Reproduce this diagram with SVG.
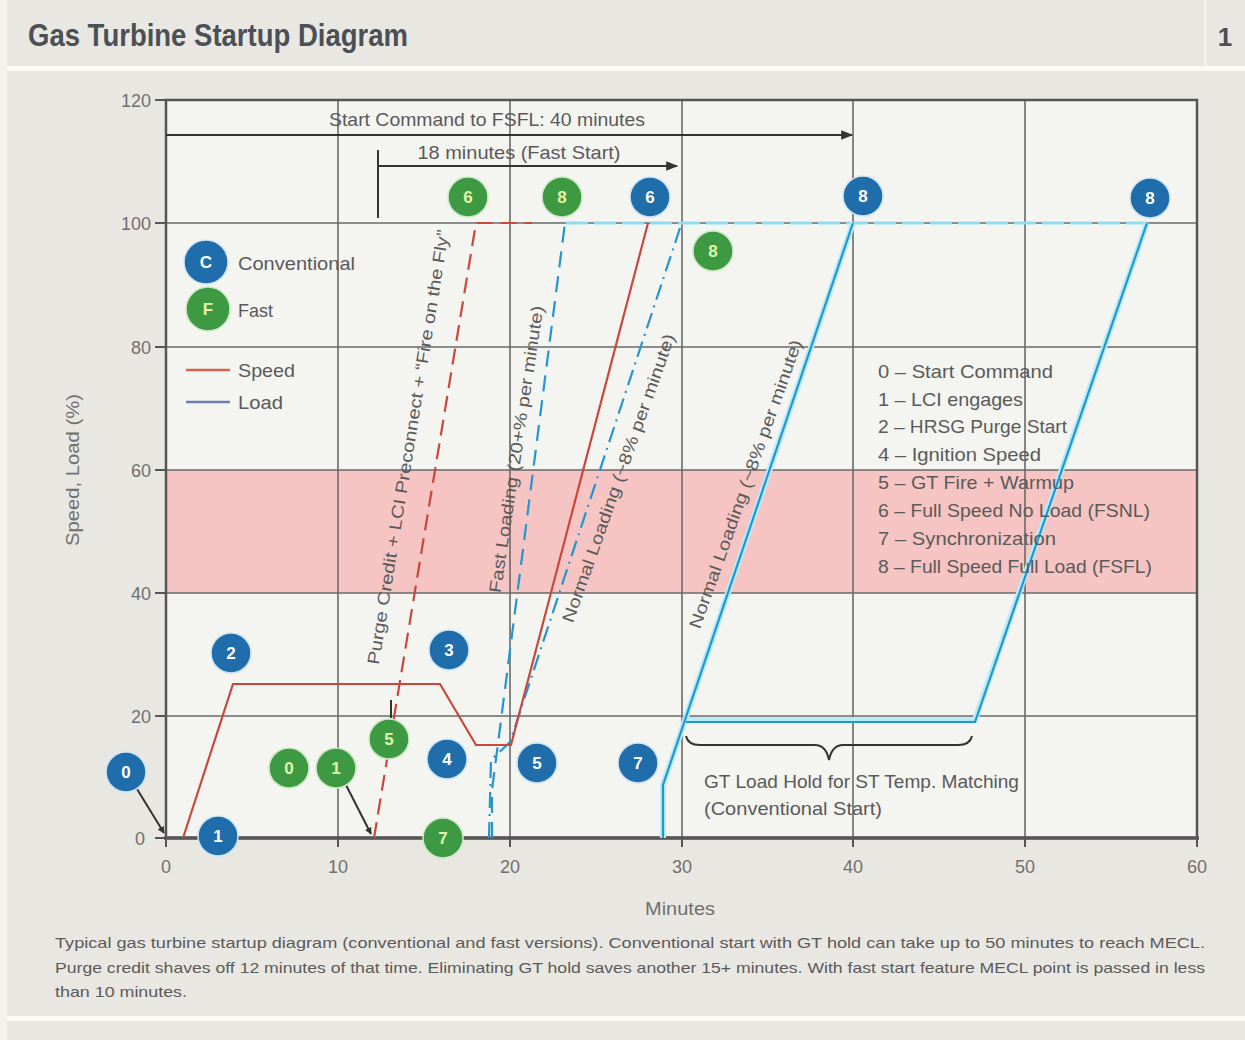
<svg xmlns="http://www.w3.org/2000/svg" width="1245" height="1040" viewBox="0 0 1245 1040">
<defs>
<style>
.t{font-family:"Liberation Sans Narrow","Liberation Sans",Arial,sans-serif;fill:#5a5a5a}
.tick{font-size:18px;fill:#707070}
.lbl{font-size:19px}
.mk text{font-family:"Liberation Sans",Arial,sans-serif;font-size:17px;font-weight:bold;text-anchor:middle}
.cb circle{fill:#1f6dab;stroke:#cfe5f3;stroke-width:1.5}
.cb text{fill:#ffffff}
.fg circle{fill:#3d9a43;stroke:#cfe9c8;stroke-width:1.5}
.fg text{fill:#e2f5a8}
.grid{stroke:#6a6a6a;stroke-width:1.6;fill:none}
.spd{stroke:#c8483e;stroke-width:2.2;fill:none}
.ldglow{stroke:#b7ecf7;stroke-width:6;fill:none}
.ld{stroke:#2496cf;stroke-width:2.2;fill:none}
.arr{stroke:#333;stroke-width:2;fill:none}
</style>
<marker id="ah" viewBox="0 0 10 10" refX="9" refY="5" markerWidth="7" markerHeight="7" orient="auto" markerUnits="userSpaceOnUse">
<path d="M0,0 L10,5 L0,10 z" fill="#333"/>
</marker>
<marker id="ahb" viewBox="0 0 10 10" refX="9" refY="5" markerWidth="14" markerHeight="12" orient="auto" markerUnits="userSpaceOnUse">
<path d="M0,1 L10,5 L0,9 z" fill="#333"/>
</marker>
</defs>

<!-- background -->
<rect x="0" y="0" width="1245" height="1040" fill="#e9e7e1"/>
<rect x="0" y="0" width="7" height="1040" fill="#f3f2ed"/>
<rect x="7" y="66" width="1238" height="5" fill="#fbfaf5"/>
<rect x="1204" y="0" width="3" height="66" fill="#f3f2ec"/>
<rect x="7" y="1016" width="1238" height="5" fill="#fbfaf5"/>

<text class="t" x="28" y="46" font-size="31" font-weight="bold" textLength="380" lengthAdjust="spacingAndGlyphs" style="fill:#4b5056">Gas Turbine Startup Diagram</text>
<text class="t" x="1225" y="46" font-size="26" font-weight="bold" text-anchor="middle" style="fill:#4b5056">1</text>

<!-- plot area -->
<g id="plot">
<rect x="166" y="100" width="1031" height="738" fill="#f4f4f0"/>
<rect x="166" y="470" width="1031" height="123" fill="#f6c4c2"/>
<path class="grid" d="M338,100V838 M510,100V838 M682,100V838 M853,100V838 M1025,100V838 M166,223H1197 M166,347H1197 M166,470H1197 M166,593H1197 M166,716H1197"/>
<rect x="166" y="100" width="1031" height="738" fill="none" stroke="#555" stroke-width="2.5"/>
<path d="M164,838H1199" stroke="#555" stroke-width="3.5"/>
<path stroke="#555" stroke-width="2" d="M155,100H166 M155,223H166 M155,347H166 M155,470H166 M155,593H166 M155,716H166 M155,838H166 M166,838V847 M338,838V847 M510,838V847 M682,838V847 M853,838V847 M1025,838V847 M1197,838V847"/>
</g>

<g id="axis-labels" class="t tick">
<text x="151" y="107" text-anchor="end">120</text>
<text x="151" y="230" text-anchor="end">100</text>
<text x="151" y="354" text-anchor="end">80</text>
<text x="151" y="477" text-anchor="end">60</text>
<text x="151" y="600" text-anchor="end">40</text>
<text x="151" y="723" text-anchor="end">20</text>
<text x="145" y="845" text-anchor="end">0</text>
<text x="166" y="873" text-anchor="middle">0</text>
<text x="338" y="873" text-anchor="middle">10</text>
<text x="510" y="873" text-anchor="middle">20</text>
<text x="682" y="873" text-anchor="middle">30</text>
<text x="853" y="873" text-anchor="middle">40</text>
<text x="1025" y="873" text-anchor="middle">50</text>
<text x="1197" y="873" text-anchor="middle">60</text>
<text x="680" y="915" text-anchor="middle" textLength="70" lengthAdjust="spacingAndGlyphs">Minutes</text>
<text x="0" y="0" text-anchor="middle" textLength="152" lengthAdjust="spacingAndGlyphs" transform="translate(79,470) rotate(-90)">Speed, Load (%)</text>
</g>

<!-- connectors / curves -->
<g id="connectors">
<path d="M566,223H1150" stroke="#8fdcf0" stroke-width="3" stroke-dasharray="22,6" fill="none"/>
<path class="ldglow" d="M663,838V785L853,223 M686,720H975L1147,223"/>
<path class="ld" d="M663,838V785L853,223 M686,722H975L1147,223"/>
<path d="M492,838V790L565,223" stroke="#2496cf" stroke-width="2.2" fill="none" stroke-dasharray="16,9"/>
<path d="M489,838L491,760L510,742L680,228" stroke="#2496cf" stroke-width="2.2" fill="none" stroke-dasharray="16,6,2,6"/>
<path class="spd" d="M183,838L233,684H440L476,745H511L648,223"/>
<path d="M374,838L476,223H532" stroke="#c8483e" stroke-width="2.2" fill="none" stroke-dasharray="16,8"/>
<path class="arr" d="M137,789L164,833" marker-end="url(#ah)"/>
<path class="arr" d="M346,785L371,834" marker-end="url(#ah)"/>
<path class="arr" d="M391,718V700"/>
<path class="arr" d="M166,135H852" marker-end="url(#ahb)"/>
<path class="arr" d="M378,150V218 M378,166H677" marker-end="url(#ahb)"/>
<path d="M686,736Q688,745 700,745H815Q826,745 829,760Q832,745 843,745H958Q970,745 972,736" stroke="#333" stroke-width="2" fill="none"/>
</g>

<g id="annotations" class="t lbl">
<text x="487" y="126" text-anchor="middle" textLength="316" lengthAdjust="spacingAndGlyphs">Start Command to FSFL: 40 minutes</text>
<text x="519" y="159" text-anchor="middle" textLength="203" lengthAdjust="spacingAndGlyphs">18 minutes (Fast Start)</text>
<text x="0" y="0" font-size="17" text-anchor="middle" textLength="440" lengthAdjust="spacingAndGlyphs" transform="translate(414,448) rotate(-80.8)">Purge Credit + LCI Preconnect + “Fire on the Fly”</text>
<text x="0" y="0" font-size="17" text-anchor="middle" textLength="290" lengthAdjust="spacingAndGlyphs" transform="translate(522,450) rotate(-81.5)">Fast Loading (20+% per minute)</text>
<text x="0" y="0" font-size="17" text-anchor="middle" textLength="305" lengthAdjust="spacingAndGlyphs" transform="translate(624,480) rotate(-70.4)">Normal Loading (~8% per minute)</text>
<text x="0" y="0" font-size="17" text-anchor="middle" textLength="305" lengthAdjust="spacingAndGlyphs" transform="translate(751,486) rotate(-70.4)">Normal Loading (~8% per minute)</text>
<text x="704" y="788" textLength="315" lengthAdjust="spacingAndGlyphs">GT Load Hold for ST Temp. Matching</text>
<text x="704" y="815" textLength="178" lengthAdjust="spacingAndGlyphs">(Conventional Start)</text>
</g>

<g id="key" class="t lbl">
<text x="878" y="378" textLength="175" lengthAdjust="spacingAndGlyphs">0 – Start Command</text>
<text x="878" y="406" textLength="145" lengthAdjust="spacingAndGlyphs">1 – LCI engages</text>
<text x="878" y="433" textLength="189" lengthAdjust="spacingAndGlyphs">2 – HRSG Purge Start</text>
<text x="878" y="461" textLength="163" lengthAdjust="spacingAndGlyphs">4 – Ignition Speed</text>
<text x="878" y="489" textLength="196" lengthAdjust="spacingAndGlyphs">5 – GT Fire + Warmup</text>
<text x="878" y="517" textLength="272" lengthAdjust="spacingAndGlyphs">6 – Full Speed No Load (FSNL)</text>
<text x="878" y="545" textLength="178" lengthAdjust="spacingAndGlyphs">7 – Synchronization</text>
<text x="878" y="573" textLength="274" lengthAdjust="spacingAndGlyphs">8 – Full Speed Full Load (FSFL)</text>
</g>

<g id="legend" class="t lbl">
<g class="mk cb" id="legend-c"><circle cx="206" cy="262" r="22"/><text x="206" y="268">C</text></g>
<text x="238" y="270" textLength="117" lengthAdjust="spacingAndGlyphs">Conventional</text>
<g class="mk fg" id="legend-f"><circle cx="208" cy="309" r="22"/><text x="208" y="315">F</text></g>
<text x="238" y="317" textLength="35" lengthAdjust="spacingAndGlyphs">Fast</text>
<path d="M186,370H230" stroke="#d0644f" stroke-width="2.5"/>
<text x="238" y="377" textLength="57" lengthAdjust="spacingAndGlyphs">Speed</text>
<path d="M186,402H230" stroke="#6b7fae" stroke-width="2.5"/>
<text x="238" y="409" textLength="45" lengthAdjust="spacingAndGlyphs">Load</text>
</g>

<g id="c0" class="mk cb"><circle cx="126" cy="772" r="20"/><text x="126" y="778">0</text></g>
<g id="c1" class="mk cb"><circle cx="218" cy="836" r="20"/><text x="218" y="842">1</text></g>
<g id="c2" class="mk cb"><circle cx="231" cy="653" r="20"/><text x="231" y="659">2</text></g>
<g id="c3" class="mk cb"><circle cx="449" cy="650" r="20"/><text x="449" y="656">3</text></g>
<g id="c4" class="mk cb"><circle cx="447" cy="759" r="20"/><text x="447" y="765">4</text></g>
<g id="c5" class="mk cb"><circle cx="537" cy="763" r="20"/><text x="537" y="769">5</text></g>
<g id="c6" class="mk cb"><circle cx="650" cy="197" r="20"/><text x="650" y="203">6</text></g>
<g id="c7" class="mk cb"><circle cx="638" cy="763" r="20"/><text x="638" y="769">7</text></g>
<g id="c8a" class="mk cb"><circle cx="863" cy="196" r="20"/><text x="863" y="202">8</text></g>
<g id="c8b" class="mk cb"><circle cx="1150" cy="198" r="20"/><text x="1150" y="204">8</text></g>

<g id="f0" class="mk fg"><circle cx="289" cy="768" r="20"/><text x="289" y="774">0</text></g>
<g id="f1" class="mk fg"><circle cx="336" cy="768" r="20"/><text x="336" y="774">1</text></g>
<g id="f5" class="mk fg"><circle cx="389" cy="739" r="20"/><text x="389" y="745">5</text></g>
<g id="f7" class="mk fg"><circle cx="443" cy="838" r="20"/><text x="443" y="844">7</text></g>
<g id="f6" class="mk fg"><circle cx="468" cy="197" r="20"/><text x="468" y="203">6</text></g>
<g id="f8a" class="mk fg"><circle cx="562" cy="197" r="20"/><text x="562" y="203">8</text></g>
<g id="f8b" class="mk fg"><circle cx="713" cy="251" r="20"/><text x="713" y="257">8</text></g>

<g id="caption" class="t" font-size="15">
<text x="55" y="948" textLength="1150" lengthAdjust="spacingAndGlyphs">Typical gas turbine startup diagram (conventional and fast versions). Conventional start with GT hold can take up to 50 minutes to reach MECL.</text>
<text x="55" y="973" textLength="1150" lengthAdjust="spacingAndGlyphs">Purge credit shaves off 12 minutes of that time. Eliminating GT hold saves another 15+ minutes. With fast start feature MECL point is passed in less</text>
<text x="55" y="997" textLength="132" lengthAdjust="spacingAndGlyphs">than 10 minutes.</text>
</g>
</svg>
